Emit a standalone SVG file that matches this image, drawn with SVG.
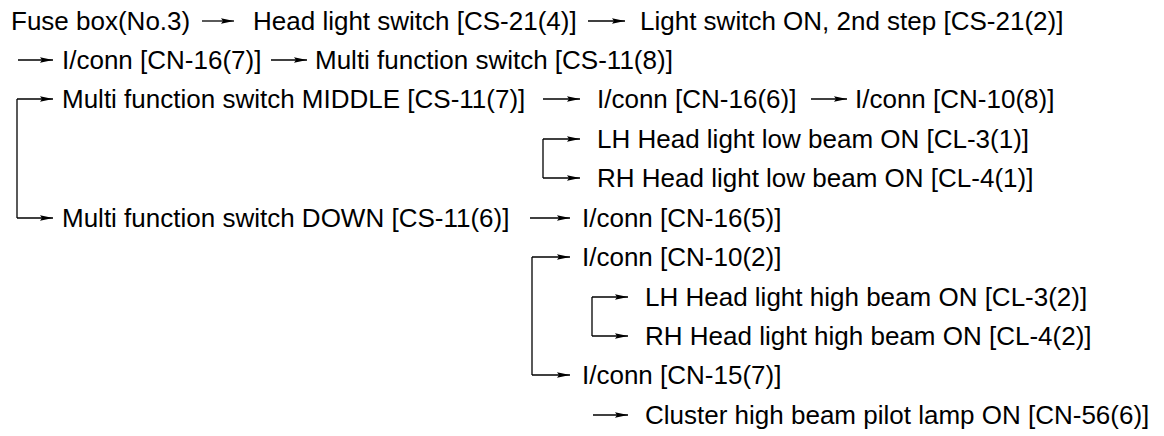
<svg xmlns="http://www.w3.org/2000/svg" width="1164" height="436" viewBox="0 0 1164 436">
<defs>
<marker id="ah" markerWidth="14" markerHeight="8" refX="13" refY="4" orient="auto" markerUnits="userSpaceOnUse">
<path d="M0,1.3 L13,4 L0,6.7 L2,4 z" fill="#000"/>
</marker>
<style>
text{font-family:"Liberation Sans",Arial,sans-serif;font-size:26px;fill:#000}
.c{fill:none;stroke:#000;stroke-width:1.3}
.a{marker-end:url(#ah)}
</style>
</defs>
<rect width="1164" height="436" fill="#fff"/>
<g id="connectors">
<path class="c a" d="M202,21 H234"/>
<path class="c a" d="M588,21 H625"/>
<path class="c a" d="M18,60 H53"/>
<path class="c a" d="M271,60 H307"/>
<path class="c" d="M17,218 V99"/>
<path class="c a" d="M17,99 H53"/>
<path class="c a" d="M17,218 H53"/>
<path class="c a" d="M543,99 H580"/>
<path class="c a" d="M811,99 H847"/>
<path class="c" d="M543,139 V178"/>
<path class="c a" d="M543,139 H580"/>
<path class="c a" d="M543,178 H580"/>
<path class="c a" d="M530,218 H570"/>
<path class="c" d="M532,257 V375"/>
<path class="c a" d="M532,257 H570"/>
<path class="c a" d="M532,375 H570"/>
<path class="c" d="M592,297 V336"/>
<path class="c a" d="M592,297 H628"/>
<path class="c a" d="M592,336 H628"/>
<path class="c a" d="M593,415 H628"/>
</g>
<g id="n1"><text x="11" y="30">Fuse box(No.3)</text></g>
<g id="n2"><text x="253" y="30">Head light switch [CS-21(4)]</text></g>
<g id="n3"><text x="640" y="30">Light switch ON, 2nd step [CS-21(2)]</text></g>
<g id="n4"><text x="62" y="69">I/conn [CN-16(7)]</text></g>
<g id="n5"><text x="315" y="69">Multi function switch [CS-11(8)]</text></g>
<g id="n6"><text x="62" y="108">Multi function switch MIDDLE [CS-11(7)]</text></g>
<g id="n7"><text x="597" y="108">I/conn [CN-16(6)]</text></g>
<g id="n8"><text x="855" y="108">I/conn [CN-10(8)]</text></g>
<g id="n9"><text x="597" y="148">LH Head light low beam ON [CL-3(1)]</text></g>
<g id="n10"><text x="597" y="187">RH Head light low beam ON [CL-4(1)]</text></g>
<g id="n11"><text x="62" y="227">Multi function switch DOWN [CS-11(6)]</text></g>
<g id="n12"><text x="582" y="227">I/conn [CN-16(5)]</text></g>
<g id="n13"><text x="582" y="266">I/conn [CN-10(2)]</text></g>
<g id="n14"><text x="645" y="306">LH Head light high beam ON [CL-3(2)]</text></g>
<g id="n15"><text x="645" y="345">RH Head light high beam ON [CL-4(2)]</text></g>
<g id="n16"><text x="582" y="384">I/conn [CN-15(7)]</text></g>
<g id="n17"><text x="645" y="424">Cluster high beam pilot lamp ON [CN-56(6)]</text></g>
</svg>
